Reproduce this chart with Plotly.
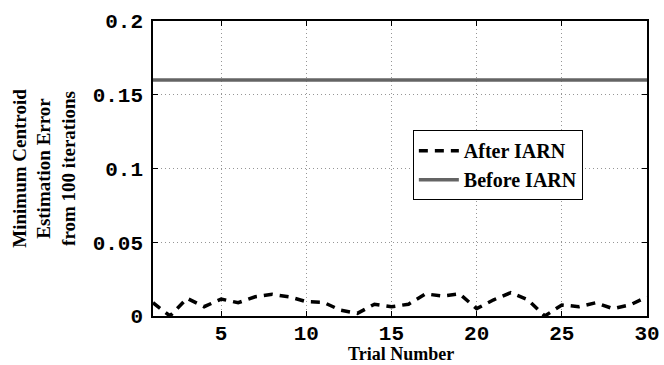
import plotly.graph_objects as go

trials = list(range(1, 31))
after_iarn = [0.009, 0.0, 0.012, 0.0063, 0.0115, 0.009, 0.013, 0.0147, 0.013, 0.0097,
              0.0093, 0.004, 0.0018, 0.008, 0.0063, 0.008, 0.015, 0.0135, 0.015, 0.005,
              0.011, 0.0158, 0.011, 0.0, 0.0075, 0.0063, 0.009, 0.005, 0.0075, 0.013]
before_iarn = [0.16] * 30

x_ticks = [5, 10, 15, 20, 25, 30]
x_tick_text = ["<b>%d</b>" % v for v in x_ticks]
y_ticks = [0, 0.05, 0.1, 0.15, 0.2]
y_tick_text = ["<b>0</b>", "<b>0.05</b>", "<b>0.1</b>", "<b>0.15</b>", "<b>0.2</b>"]

fig = go.Figure()
fig.add_trace(go.Scatter(x=trials, y=after_iarn, mode="lines", name="<b>After IARN</b>",
                         line=dict(color="black", width=3.5, dash="9px,7px")))
fig.add_trace(go.Scatter(x=trials, y=before_iarn, mode="lines", name="<b>Before IARN</b>",
                         line=dict(color="rgb(100,100,100)", width=3.5)))

tick_font = dict(family="Liberation Mono, Courier New, monospace", size=21, color="black")
title_font = dict(family="Liberation Serif, Times New Roman, serif", size=19, color="black")

fig.update_layout(
    width=664, height=365,
    margin=dict(l=153, r=17, t=21, b=49),
    paper_bgcolor="white", plot_bgcolor="white",
    showlegend=True,
    legend=dict(x=0.526, y=0.63, xanchor="left", yanchor="top",
                bgcolor="white", bordercolor="black", borderwidth=1,
                font=dict(family="Liberation Serif, Times New Roman, serif", size=20, color="black"),
                tracegroupgap=0, itemwidth=40),
    xaxis=dict(range=[1, 30], tickvals=x_ticks, ticktext=x_tick_text, ticks="inside", ticklen=5,
               tickcolor="black", showline=True, linecolor="black", linewidth=1.5,
               mirror="ticks", showgrid=True, gridcolor="rgb(150,150,150)",
               griddash="1px,3px", gridwidth=1, zeroline=False, tickfont=tick_font,
               automargin=False, ticklabelstandoff=-3),
    yaxis=dict(range=[0, 0.2], tickvals=y_ticks, ticktext=y_tick_text, ticks="inside",
               ticklen=5, tickcolor="black", showline=True, linecolor="black",
               linewidth=1.5, mirror="ticks", showgrid=True, gridcolor="rgb(150,150,150)",
               griddash="1px,3px", gridwidth=1, zeroline=False, tickfont=tick_font,
               automargin=False, ticklabelstandoff=4,
               title=dict(text="<b>Minimum Centroid<br>Estimation Error<br>from 100 iterations</b>",
                          font=title_font, standoff=12)),
    annotations=[dict(text="<b>Trial Number</b>", xref="paper", yref="paper",
                      x=0.503, y=-0.165, xanchor="center", yanchor="bottom",
                      showarrow=False, borderpad=0,
                      font=dict(family="Liberation Serif, Times New Roman, serif", size=18,
                                color="black"))],
)

fig.write_html("out.html")
